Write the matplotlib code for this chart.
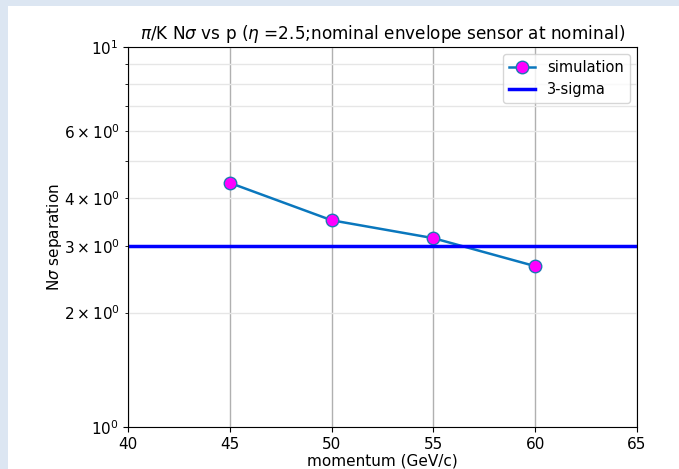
import matplotlib
matplotlib.use("Agg")
import matplotlib.pyplot as plt
from matplotlib.patches import Rectangle

momentum = [45, 50, 55, 60]
nsigma = [4.39, 3.50, 3.14, 2.65]
threshold = 3.0
xlim = (40, 65)
ylim = (1, 10)

plt.rcParams['font.size'] = 11

fig = plt.figure(figsize=(6.79, 4.69), dpi=100)
fig.patch.set_facecolor('#dce6f2')
fig.patches.append(Rectangle((8/679, 0), 1 - 8/679, 1 - 6/469, transform=fig.transFigure,
                             facecolor='white', edgecolor='none', zorder=-1))
ax = fig.add_axes([128/679, 1 - 427/469, (637-128)/679, (427-47)/469])
ax.set_yscale('log')
ax.set_xlim(*xlim)
ax.set_ylim(*ylim)
ax.grid(True, which='major', axis='x', color='#b0b0b0', linewidth=1.0)
ax.grid(True, which='both', axis='y', color='#e6e6e6', linewidth=1.0)
ax.set_axisbelow(True)
ax.plot(momentum, nsigma, '-o', color='#0a77bd', linewidth=1.8, markersize=9,
        markerfacecolor='magenta', markeredgecolor='#1f77b4', label='simulation')
ax.axhline(threshold, color='blue', linewidth=2.5, label='3-sigma')
ax.set_xlabel('momentum (GeV/c)', labelpad=1)
ax.set_ylabel(r'N$\sigma$ separation', labelpad=0)
ax.set_title(r'$\pi$/K N$\sigma$ vs p ($\eta$ =2.5;nominal envelope sensor at nominal)', fontsize=12.2)
ax.legend(loc='upper right', fontsize=10.5, handlelength=1.8)
fig.savefig('out.png', dpi=100)
